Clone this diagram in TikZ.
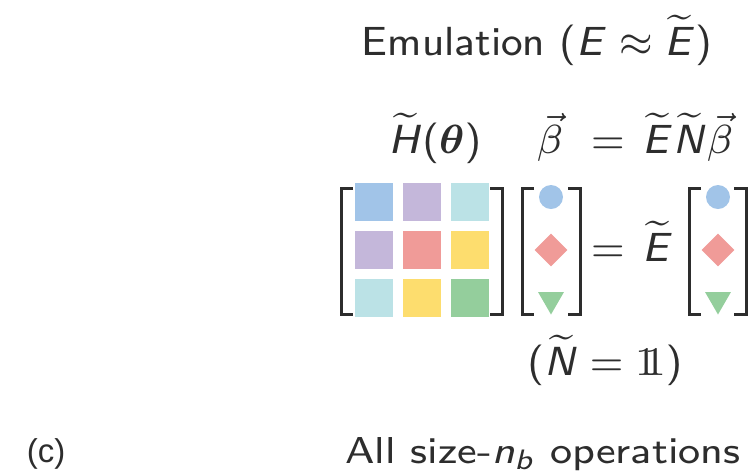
\documentclass[tikz,border=0pt]{standalone}
\usepackage{amsmath}
\usepackage[no-math]{fontspec}
\usepackage{tikz}
\usetikzlibrary{positioning, shapes.geometric}
\newfontfamily\panelfont{Liberation Sans}
\definecolor{cellBlue}{RGB}{161,196,232}
\definecolor{cellLilac}{RGB}{196,183,218}
\definecolor{cellTeal}{RGB}{187,226,230}
\definecolor{cellRose}{RGB}{240,155,152}
\definecolor{cellSun}{RGB}{253,221,110}
\definecolor{cellMint}{RGB}{148,206,156}
\definecolor{inkGray}{RGB}{45,45,45}
% sans math: upright sans digits and signs, slanted sans letters
\SetSymbolFont{operators}{normal}{OT1}{cmss}{m}{n}
\DeclareMathAlphabet{\mathsfit}{OT1}{cmss}{m}{sl}
% double-struck one
\newcommand{\unitone}{\text{\rmfamily 1\kern-0.32em1}}
% small sans text blown up, as in the slide it comes from
\newcommand{\bigtx}[1]{\scalebox{2.54}{\fontsize{8}{9.6}\selectfont\sffamily #1}}
\newcommand{\captx}[1]{\scalebox{2.6}[2.34]{\fontsize{8}{9.6}\selectfont\sffamily #1}}

\tikzset{
  txt/.style={text=inkGray, inner sep=0pt, anchor=base},
  cell/.style={minimum size=19pt, inner sep=0pt},
  brak/.style={draw=inkGray, line width=1.5pt},
}
% square brackets with short ticks, from x=#1 to x=#2
\newcommand{\drawbrackets}[2]{%
  \draw[brak] ({#1+12},188) -- (#1,188) -- (#1,314) -- ({#1+12},314);
  \draw[brak] ({#2-12},188) -- (#2,188) -- (#2,314) -- ({#2-12},314);}

\begin{document}
\begin{tikzpicture}[x=0.5pt, y=-0.5pt]
  \useasboundingbox (0,0) rectangle (752,473);

  \node[txt] (emul) at (537,55) {\bigtx{Emulation ($\mathsfit{E} \approx \widetilde{\mathsfit{E}}$)}};

  % top equation row
  \node[txt] (hth) at (435,153) {\bigtx{$\widetilde{\mathsfit{H}}(\boldsymbol{\theta})$}};
  \node[txt] (bvec) at (550,153) {\bigtx{$\vec{\beta}$}};
  \node[txt] (eqtop) at (608,153) {\bigtx{$=$}};
  \node[txt, anchor=base west] (enb) at (642,153) {\bigtx{$\widetilde{\mathsfit{E}}\widetilde{\mathsfit{N}}\vec{\beta}$}};

  % the 3x3 matrix
  \foreach \r/\c/\col in {1/1/cellBlue, 1/2/cellLilac, 1/3/cellTeal,
                          2/1/cellLilac, 2/2/cellRose, 2/3/cellSun,
                          3/1/cellTeal, 3/2/cellSun, 3/3/cellMint} {
    \node[cell, fill=\col] (m\r\c) at ({374+48*(\c-1)},{202+48*(\r-1)}) {};
  }
  \drawbrackets{341}{502}

  % vector on the left
  \drawbrackets{522}{580}
  \node[circle, fill=cellBlue, minimum size=12pt, inner sep=0pt] (la) at (551,197) {};
  \node[diamond, fill=cellRose, minimum width=16.5pt, minimum height=16.5pt, inner sep=0pt] (lb) at (551,250) {};
  \node[regular polygon, regular polygon sides=3, shape border rotate=180, fill=cellMint, minimum size=15pt, inner sep=0pt] (lc) at (551,299.5) {};

  \node[txt] (eqmid) at (608,261) {\bigtx{$=$}};
  \node[txt, anchor=base west] (emid) at (642,261) {\bigtx{$\widetilde{\mathsfit{E}}$}};

  % vector on the right
  \drawbrackets{689}{746}
  \node[circle, fill=cellBlue, minimum size=12pt, inner sep=0pt] (ra) at (718,197) {};
  \node[diamond, fill=cellRose, minimum width=16.5pt, minimum height=16.5pt, inner sep=0pt] (rb) at (718,250) {};
  \node[regular polygon, regular polygon sides=3, shape border rotate=180, fill=cellMint, minimum size=15pt, inner sep=0pt] (rc) at (718,299.5) {};

  \node[txt] (nid) at (605,375) {\bigtx{$(\widetilde{\mathsfit{N}} = \unitone)$}};

  \node[txt, font=\fontsize{16.5}{20}\selectfont\panelfont] (panel) at (46,462) {(c)};
  \node[txt] (ops) at (543,463) {\captx{All size-$\mathsfit{n}_{\mathsfit{b}}$ operations}};
\end{tikzpicture}
\end{document}
